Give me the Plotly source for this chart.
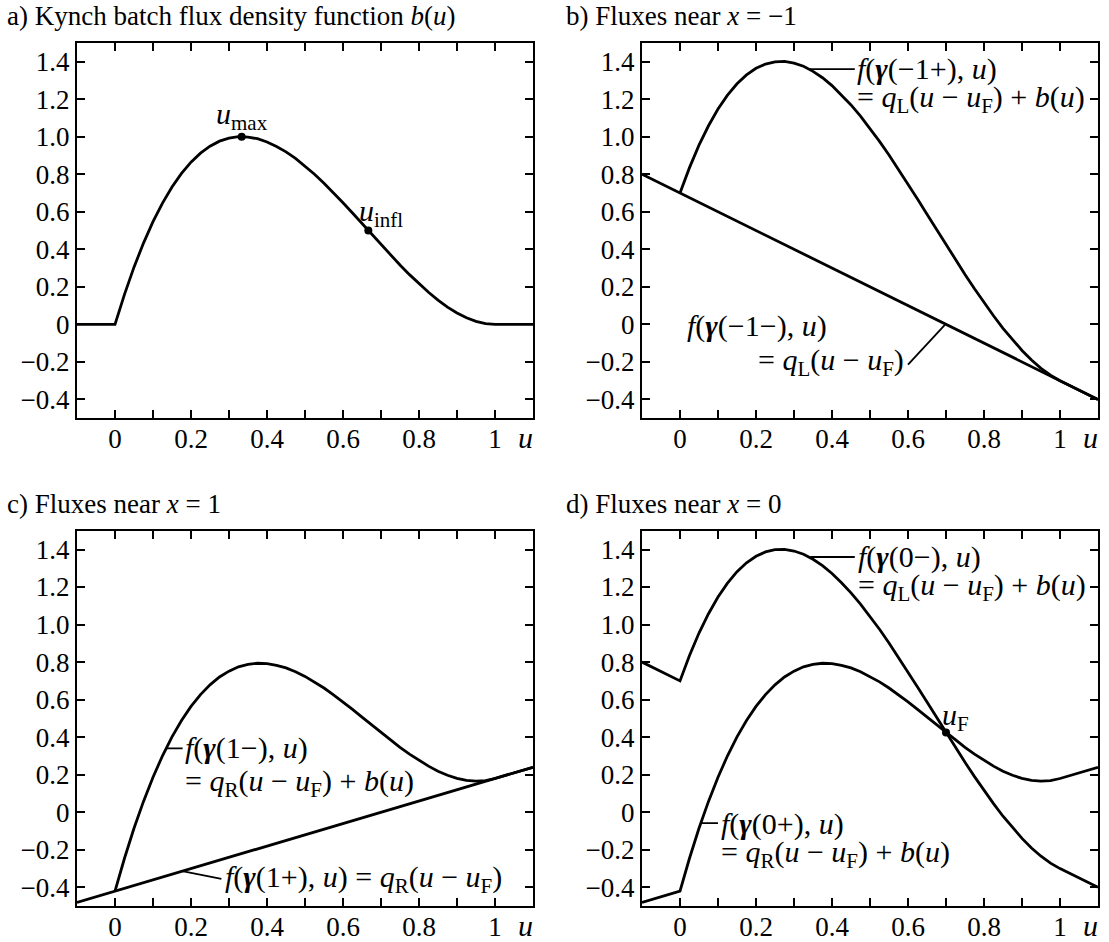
import plotly.graph_objects as go

# ---------------- data ----------------
u_vals = [0.0, 0.025, 0.05, 0.075, 0.1, 0.125, 0.15, 0.175, 0.2, 0.225, 0.25, 0.275,
          0.3, 0.325, 0.35, 0.375, 0.4, 0.425, 0.45, 0.475, 0.5, 0.525, 0.55, 0.575,
          0.6, 0.625, 0.65, 0.675, 0.7, 0.725, 0.75, 0.775, 0.8, 0.825, 0.85, 0.875,
          0.9, 0.925, 0.95, 0.975, 1.0]
b_vals = [0.0, 0.160, 0.305, 0.433, 0.547, 0.646, 0.732, 0.804, 0.864, 0.912, 0.949, 0.976,
          0.992, 1.000, 0.998, 0.989, 0.972, 0.948, 0.919, 0.884, 0.844, 0.800, 0.752, 0.701,
          0.648, 0.593, 0.537, 0.481, 0.425, 0.370, 0.316, 0.265, 0.216, 0.171, 0.129, 0.092,
          0.061, 0.035, 0.016, 0.004, 0.0]
u_left = -0.1
u_right = 1.1
q_L = -1.0
q_R = 0.6
u_F = 0.7
u_max, b_max = 1 / 3, 1.0
u_infl, b_infl = 2 / 3, 0.5
b_F = 0.425

x_tick_vals = [0.0, 0.1, 0.2, 0.3, 0.4, 0.5, 0.6, 0.7, 0.8, 0.9, 1.0]
x_tick_text = ["0", "", "0.2", "", "0.4", "", "0.6", "", "0.8", "", "1"]
y_tick_vals = [-0.4, -0.2, 0.0, 0.2, 0.4, 0.6, 0.8, 1.0, 1.2, 1.4]
y_tick_text = ["\u22120.4", "\u22120.2", "0", "0.2", "0.4", "0.6", "0.8", "1.0", "1.2", "1.4"]

titles = ["a) Kynch batch flux density function <i>b</i>(<i>u</i>)",
          "b) Fluxes near <i>x</i> = \u22121",
          "c) Fluxes near <i>x</i> = 1",
          "d) Fluxes near <i>x</i> = 0"]

# derived series
u_full = [u_left] + u_vals + [u_right]
b_full = [0.0] + b_vals + [0.0]
u_curve = u_vals + [u_right]
b_curve = b_vals + [0.0]

line_L = [q_L * (x - u_F) for x in u_full]
line_R = [q_R * (x - u_F) for x in u_full]
fL_curve = [q_L * (x - u_F) + bb for x, bb in zip(u_curve, b_curve)]
fR_curve = [q_R * (x - u_F) + bb for x, bb in zip(u_curve, b_curve)]
fL_full = [q_L * (x - u_F) + bb for x, bb in zip(u_full, b_full)]
fR_full = [q_R * (x - u_F) + bb for x, bb in zip(u_full, b_full)]

W, H = 1109, 942
FONT = "Liberation Serif"
FS = 27
FS_MATH = 30
LW = 2.8

fig = go.Figure()


def add_line(x, y, ax, width=LW):
    fig.add_trace(go.Scatter(x=x, y=y, mode="lines", xaxis="x" + ax, yaxis="y" + ax,
                             line=dict(color="black", width=width), showlegend=False,
                             hoverinfo="skip"))


def add_dot(x, y, ax):
    fig.add_trace(go.Scatter(x=[x], y=[y], mode="markers", xaxis="x" + ax, yaxis="y" + ax,
                             marker=dict(color="black", size=8), showlegend=False,
                             hoverinfo="skip"))


# a)
add_line(u_full, b_full, "")
add_dot(u_max, b_max, "")
add_dot(u_infl, b_infl, "")
# b)
add_line(u_full, line_L, "2")
add_line(u_curve, fL_curve, "2")
# c)
add_line(u_full, line_R, "3")
add_line(u_curve, fR_curve, "3")
# d)
add_line(u_full, fL_full, "4")
add_line(u_full, fR_full, "4")
add_dot(u_F, b_F, "4")

# panel geometry (pixels)
xdom_left = [77 / W, 533 / W]
xdom_right = [642 / W, 1098 / W]
ydom_top = [1 - 420 / H, 1 - 43 / H]
ydom_bot = [1 - 910 / H, 1 - 533 / H]

axis_common = dict(showline=True, linecolor="black", linewidth=2, mirror="ticks",
                   ticks="inside", ticklen=8, tickwidth=2, tickcolor="black",
                   showgrid=False, zeroline=False,
                   tickfont=dict(family=FONT, size=FS, color="black"))

layout_axes = {}
doms = {"": (xdom_left, ydom_top), "2": (xdom_right, ydom_top),
        "3": (xdom_left, ydom_bot), "4": (xdom_right, ydom_bot)}
for k, (xd, yd) in doms.items():
    layout_axes["xaxis" + k] = dict(axis_common, domain=xd, anchor="y" + k, range=[u_left, u_right],
                                    tickmode="array", tickvals=x_tick_vals, ticktext=x_tick_text,
                                    ticklabelstandoff=-5)
    layout_axes["yaxis" + k] = dict(axis_common, domain=yd, anchor="x" + k, range=[-0.5, 1.5],
                                    tickmode="array", tickvals=y_tick_vals, ticktext=y_tick_text)

annotations = []
font = dict(family=FONT, size=FS, color="black")
mfont = dict(family=FONT, size=FS_MATH, color="black")

# titles
title_pos = [(5, 16), (564, 16), (5, 506), (564, 506)]
for t, (px, py) in zip(titles, title_pos):
    annotations.append(dict(text=t, xref="paper", yref="paper", x=px / W, y=1 - py / H,
                            xanchor="left", yanchor="middle", showarrow=False, font=font))

# axis variable label "u"
for k, (xd, yd) in doms.items():
    annotations.append(dict(text="<i>u</i>", xref="x" + k, yref="paper", x=1.08, y=yd[0],
                            xanchor="center", yanchor="top", yshift=-1, showarrow=False,
                            font=mfont))


def note(text, x, y, ax, xanchor="left", yanchor="middle", xshift=0, yshift=0):
    annotations.append(dict(text=text, xref="x" + ax, yref="y" + ax, x=x, y=y,
                            xanchor=xanchor, yanchor=yanchor, xshift=xshift, yshift=yshift,
                            showarrow=False, font=mfont))


note("<i>u</i><sub>max</sub>", u_max, b_max, "", xanchor="center", yanchor="bottom", yshift=0)
note("<i>u</i><sub>infl</sub>", u_infl, b_infl, "", xanchor="left", yanchor="bottom", xshift=-11, yshift=-3)
note("<i>u</i><sub>F</sub>", u_F, b_F, "4", xanchor="left", yanchor="bottom", xshift=-6, yshift=-5)

note("<i>f</i>(<b><i>γ</i></b>(\u22121+), <i>u</i>)", 0.46, 1.36, "2")
note("= <i>q</i><sub>L</sub>(<i>u</i> \u2212 <i>u</i><sub>F</sub>) + <i>b</i>(<i>u</i>)", 0.46, 1.20, "2")
note("<i>f</i>(<b><i>γ</i></b>(\u22121\u2212), <i>u</i>)", 0.012, -0.01, "2")
note("= <i>q</i><sub>L</sub>(<i>u</i> \u2212 <i>u</i><sub>F</sub>)", 0.20, -0.20, "2")

note("<i>f</i>(<b><i>γ</i></b>(1\u2212), <i>u</i>)", 0.18, 0.34, "3")
note("= <i>q</i><sub>R</sub>(<i>u</i> \u2212 <i>u</i><sub>F</sub>) + <i>b</i>(<i>u</i>)", 0.18, 0.155, "3")
note("<i>f</i>(<b><i>γ</i></b>(1+), <i>u</i>) = <i>q</i><sub>R</sub>(<i>u</i> \u2212 <i>u</i><sub>F</sub>)", 0.285, -0.357, "3")

note("<i>f</i>(<b><i>γ</i></b>(0\u2212), <i>u</i>)", 0.462, 1.36, "4")
note("= <i>q</i><sub>L</sub>(<i>u</i> \u2212 <i>u</i><sub>F</sub>) + <i>b</i>(<i>u</i>)", 0.462, 1.20, "4")
note("<i>f</i>(<b><i>γ</i></b>(0+), <i>u</i>)", 0.102, -0.06, "4")
note("= <i>q</i><sub>R</sub>(<i>u</i> \u2212 <i>u</i><sub>F</sub>) + <i>b</i>(<i>u</i>)", 0.102, -0.22, "4")

# leader lines
leaders = [("2", 0.34, 1.36, 0.46, 1.36), ("2", 0.60, -0.215, 0.697, -0.003),
           ("3", 0.135, 0.34, 0.178, 0.34), ("3", 0.177, -0.313, 0.28, -0.355),
           ("4", 0.343, 1.36, 0.46, 1.36), ("4", 0.056, -0.058, 0.10, -0.058)]
shapes = []
for ax, x0, y0, x1, y1 in leaders:
    shapes.append(dict(type="line", xref="x" + ax, yref="y" + ax, x0=x0, y0=y0, x1=x1, y1=y1,
                       line=dict(color="black", width=1.8)))

fig.update_layout(width=W, height=H, margin=dict(l=0, r=0, t=0, b=0),
                  paper_bgcolor="white", plot_bgcolor="white", showlegend=False,
                  font=font, annotations=annotations, shapes=shapes, **layout_axes)

fig.write_html("out.html", config={"displayModeBar": False},
               post_script="document.body.style.margin='0';document.body.style.overflow='hidden';")
